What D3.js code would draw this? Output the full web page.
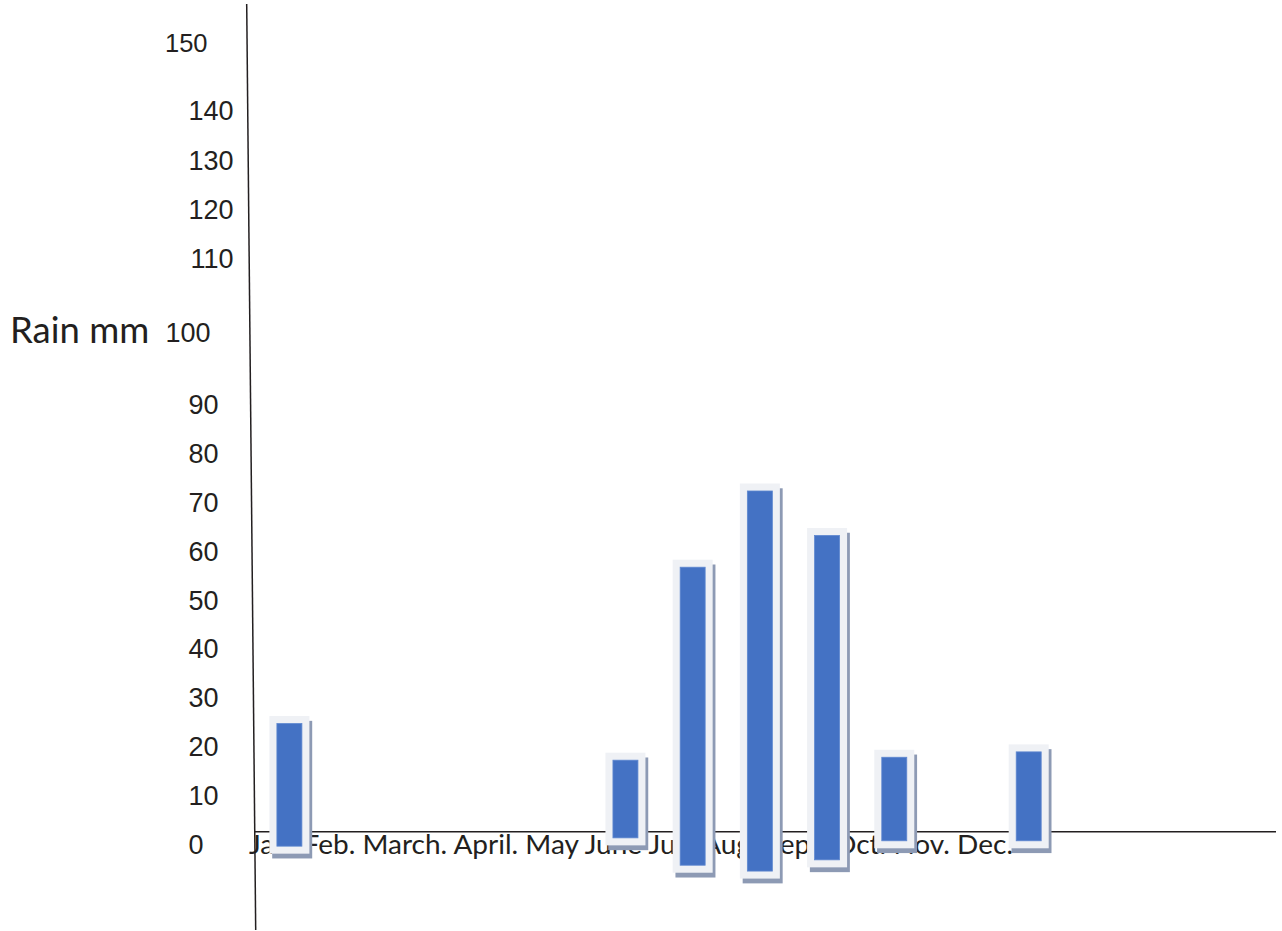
<!DOCTYPE html>
<html>
<head>
<meta charset="utf-8">
<script src="https://cdn.jsdelivr.net/npm/d3@7"></script>
<style>
  html, body { margin: 0; background: #fff; }
  svg { display: block; }
</style>
</head>
<body>
<svg id="chart" width="1282" height="931"></svg>
<script>
// Monthly rainfall (mm). Months without rain have no bar.
const months   = ["Jan.", "Feb.", "March.", "April.", "May", "June", "July", "Aug.", "Sept.", "Oct.", "Nov.", "Dec."];
const rainTop  = [24.8, null, null, null, null, 17.3, 56.8, 72.4, 63.3, 17.9, null, 19.0];
// each bar is drawn as a floating column from its base value up to its top value
const rainBase = [-0.3, null, null, null, null, 1.4, -4.2, -5.4, -3.1, 0.8, null, 0.8];
const yTicks   = [0, 10, 20, 30, 40, 50, 60, 70, 80, 90, 100, 110, 120, 130, 140, 150];
const yTitle   = "Rain mm";

const svg = d3.select("#chart");

// The value axis is hand-spaced: even steps up to 90, wider gaps above.
const y = d3.scaleLinear()
  .domain([0, 90, 100, 110, 140, 150])
  .range([844.7, 405, 332.7, 259, 111.2, 43.7]);

const x = d3.scaleLinear()
  .domain([0, months.length - 1])
  .range([289.4, 1028.7]);

const ink = "#231f20";

// Month names run along the baseline as one line of text
svg.append("text")
  .attr("x", 249)
  .attr("y", 853.5)
  .attr("textLength", 764)
  .attr("lengthAdjust", "spacingAndGlyphs")
  .style("font-family", "Lato, 'Open Sans', sans-serif")
  .style("font-size", "26.5px")
  .style("fill", ink)
  .text(months.join(" "));

// Value axis labels
const labelShift = { 0: -15, 100: -8, 110: 15, 120: 15, 130: 15, 140: 15, 150: -11 };
const yAxis = svg.append("g")
  .attr("transform", "translate(218.5,0)")
  .call(d3.axisLeft(y).tickValues(yTicks).tickSize(0).tickPadding(0).tickFormat(d3.format("d")));
yAxis.select(".domain").remove();
yAxis.selectAll("text")
  .attr("x", d => labelShift[d] || 0)
  .style("font-family", "'Liberation Sans', Arial, sans-serif")
  .style("font-size", d => d === 150 ? "25.5px" : "27px")
  .style("fill", ink);

svg.append("text")
  .attr("x", 10)
  .attr("y", 343)
  .style("font-family", "Lato, 'Open Sans', sans-serif")
  .style("font-size", "36.5px")
  .style("fill", ink)
  .text(yTitle);

// Axis lines: a slightly leaning vertical rule and the horizontal baseline
svg.append("line")
  .attr("x1", 246.7).attr("y1", 4)
  .attr("x2", 255.7).attr("y2", 930)
  .attr("stroke", ink).attr("stroke-width", 1.5);

svg.append("line")
  .attr("x1", 255).attr("y1", 831.8)
  .attr("x2", 1276).attr("y2", 831.8)
  .attr("stroke", ink).attr("stroke-width", 1.6);

// Bars: drop shadow, pale frame, blue column
const bars = months
  .map((m, i) => ({ month: m, i, lo: rainBase[i], hi: rainTop[i] }))
  .filter(d => d.hi != null);

const innerW = 25, pad = 7.5;

const g = svg.append("g").attr("class", "bars");
const bar = g.selectAll("g").data(bars).join("g");

bar.append("rect")
  .attr("x", d => x(d.i) - innerW / 2 - pad + 2.8)
  .attr("y", d => y(d.hi) - pad + 4.8)
  .attr("width", innerW + 2 * pad)
  .attr("height", d => y(d.lo) - y(d.hi) + 2 * pad)
  .attr("fill", "#8d9ab4");

bar.append("rect")
  .attr("x", d => x(d.i) - innerW / 2 - pad)
  .attr("y", d => y(d.hi) - pad)
  .attr("width", innerW + 2 * pad)
  .attr("height", d => y(d.lo) - y(d.hi) + 2 * pad)
  .attr("fill", "#eff1f5");

bar.append("rect")
  .attr("x", d => x(d.i) - innerW / 2)
  .attr("y", d => y(d.hi))
  .attr("width", innerW)
  .attr("height", d => y(d.lo) - y(d.hi))
  .attr("fill", "#4472c4")
  .attr("stroke", "#5f88d0")
  .attr("stroke-width", 0.8);
</script>
</body>
</html>
